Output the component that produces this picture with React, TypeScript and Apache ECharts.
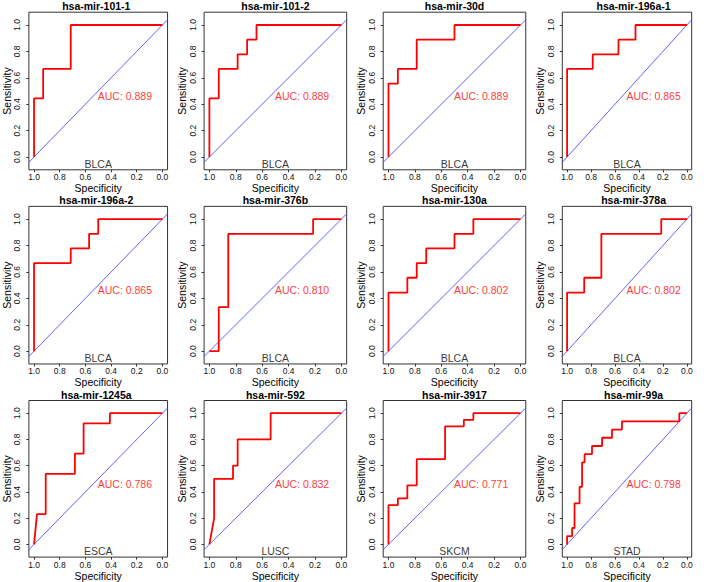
import React, { useEffect, useRef } from "react";
import * as echarts from "echarts";

const titles = [
  "hsa-mir-101-1", "hsa-mir-101-2", "hsa-mir-30d", "hsa-mir-196a-1",
  "hsa-mir-196a-2", "hsa-mir-376b", "hsa-mir-130a", "hsa-mir-378a",
  "hsa-mir-1245a", "hsa-mir-592", "hsa-mir-3917", "hsa-mir-99a",
];
const cancers = ["BLCA", "BLCA", "BLCA", "BLCA", "BLCA", "BLCA", "BLCA", "BLCA", "ESCA", "LUSC", "SKCM", "STAD"];
const aucs = ["0.889", "0.889", "0.889", "0.865", "0.865", "0.810", "0.802", "0.802", "0.786", "0.832", "0.771", "0.798"];
const tickValues = [0, 0.2, 0.4, 0.6, 0.8, 1.0];

const spec1 = [1, 1, 0.929, 0.929, 0.714, 0.714, 0];
const sens1 = [0, 0.444, 0.444, 0.667, 0.667, 1, 1];
const spec2 = [1, 1, 0.929, 0.929, 0.786, 0.786, 0.714, 0.714, 0.643, 0.643, 0];
const sens2 = [0, 0.444, 0.444, 0.667, 0.667, 0.778, 0.778, 0.889, 0.889, 1, 1];
const spec3 = [1, 1, 0.929, 0.929, 0.786, 0.786, 0.5, 0.5, 0];
const sens3 = [0, 0.556, 0.556, 0.667, 0.667, 0.889, 0.889, 1, 1];
const spec4 = [1, 1, 0.786, 0.786, 0.571, 0.571, 0.429, 0.429, 0];
const sens4 = [0, 0.667, 0.667, 0.778, 0.778, 0.889, 0.889, 1, 1];
const spec5 = [1, 1, 0.714, 0.714, 0.571, 0.571, 0.5, 0.5, 0];
const sens5 = [0, 0.667, 0.667, 0.778, 0.778, 0.889, 0.889, 1, 1];
const spec6 = [1, 0.929, 0.929, 0.857, 0.857, 0.214, 0.214, 0];
const sens6 = [0, 0, 0.333, 0.333, 0.889, 0.889, 1, 1];
const spec7 = [1, 1, 0.857, 0.857, 0.786, 0.786, 0.714, 0.714, 0.5, 0.5, 0.357, 0.357, 0];
const sens7 = [0, 0.444, 0.444, 0.556, 0.556, 0.667, 0.667, 0.778, 0.778, 0.889, 0.889, 1, 1];
const spec8 = [1, 1, 0.857, 0.857, 0.714, 0.714, 0.214, 0.214, 0];
const sens8 = [0, 0.444, 0.444, 0.556, 0.556, 0.889, 0.889, 1, 1];
const spec9 = [1, 0.977, 0.909, 0.909, 0.682, 0.682, 0.614, 0.614, 0.409, 0.409, 0];
const sens9 = [0, 0.231, 0.231, 0.538, 0.538, 0.692, 0.692, 0.923, 0.923, 1, 1];
const spec10 = [1, 0.964, 0.964, 0.821, 0.821, 0.786, 0.786, 0.536, 0.536, 0];
const sens10 = [0, 0.2, 0.5, 0.5, 0.6, 0.6, 0.8, 0.8, 1, 1];
const spec11 = [1, 1, 0.929, 0.929, 0.857, 0.857, 0.786, 0.786, 0.571, 0.571, 0.429, 0.429, 0.357, 0.357, 0];
const sens11 = [0, 0.3, 0.3, 0.35, 0.35, 0.45, 0.45, 0.65, 0.65, 0.9, 0.9, 0.95, 0.95, 1, 1];
const spec12 = [1, 1, 0.958, 0.958, 0.938, 0.938, 0.896, 0.896, 0.875, 0.875, 0.854, 0.854, 0.792, 0.792, 0.708, 0.708, 0.625, 0.625, 0.542, 0.542, 0.063, 0.063, 0];
const sens12 = [0, 0.063, 0.063, 0.125, 0.125, 0.313, 0.313, 0.438, 0.438, 0.625, 0.625, 0.688, 0.688, 0.75, 0.75, 0.813, 0.813, 0.875, 0.875, 0.938, 0.938, 1, 1];

const specs = [spec1, spec2, spec3, spec4, spec5, spec6, spec7, spec8, spec9, spec10, spec11, spec12];
const senss = [sens1, sens2, sens3, sens4, sens5, sens6, sens7, sens8, sens9, sens10, sens11, sens12];

const FONT = "'Liberation Sans', Arial, Helvetica, sans-serif";
const COL0 = 25;
const COL_STEP = 179.1;
const ROW0 = 12.2;
const ROW_STEP = 194.15;
const UNIT = 132;
const XMIN = -0.04, XMAX = 1.04;
const YMIN = -0.097, YMAX = 1.097;
const DIAG = "#5050ff";

export default function App() {
  const ref = useRef<HTMLDivElement>(null);
  useEffect(() => {
    if (!ref.current) return;
    const chart = echarts.init(ref.current, undefined, { renderer: "svg" });
    const grids: any[] = [];
    const xAxes: any[] = [];
    const yAxes: any[] = [];
    const series: any[] = [];
    const title: any[] = [];
    const W = (XMAX - XMIN) * UNIT;
    const H = (YMAX - YMIN) * UNIT;
    for (let i = 0; i < 12; i++) {
      const c = i % 4;
      const r = Math.floor(i / 4);
      const left = COL0 + c * COL_STEP;
      const top = ROW0 + r * ROW_STEP;
      grids.push({ left, top, width: W, height: H, show: true, borderColor: "#333", borderWidth: 1, backgroundColor: "transparent" });
      xAxes.push({
        type: "value", gridIndex: i, inverse: true, min: XMIN, max: XMAX, position: "bottom",
        axisLine: { show: false, onZero: false }, splitLine: { show: false },
        axisTick: { show: true, customValues: tickValues, length: 2.5, lineStyle: { color: "#333" } },
        axisLabel: { customValues: tickValues, formatter: (v: number) => v.toFixed(1), fontSize: 8.5, color: "#111", margin: 3, fontFamily: FONT },
        name: "Specificity", nameLocation: "middle", nameGap: 11,
        nameTextStyle: { fontSize: 10.5, color: "#000", fontFamily: FONT },
      });
      yAxes.push({
        type: "value", gridIndex: i, min: YMIN, max: YMAX, position: "left",
        axisLine: { show: false, onZero: false }, splitLine: { show: false },
        axisTick: { show: true, customValues: tickValues, length: 2.5, lineStyle: { color: "#333" } },
        axisLabel: { customValues: tickValues, formatter: (v: number) => v.toFixed(1), fontSize: 8.5, color: "#111", margin: 7, rotate: 90, fontFamily: FONT },
        name: "Sensitivity", nameLocation: "middle", nameGap: 14, nameRotate: 90,
        nameTextStyle: { fontSize: 10.5, color: "#000", fontFamily: FONT },
      });
      title.push({
        text: titles[i], left: left + W / 2, top: top - 11.5, textAlign: "center", padding: 0,
        textStyle: { fontSize: 10.5, fontWeight: "bold", color: "#000", fontFamily: FONT },
      });
      series.push({
        type: "line", xAxisIndex: i, yAxisIndex: i, symbol: "none", silent: true,
        color: DIAG, itemStyle: { color: DIAG },
        data: [[XMAX, -XMAX + 1], [XMIN, 1 - XMIN]],
        lineStyle: { color: DIAG, width: 0.9, opacity: 1 }, z: 1,
      });
      series.push({
        type: "line", xAxisIndex: i, yAxisIndex: i, symbol: "none", silent: true,
        color: "#ff0000", itemStyle: { color: "#ff0000" },
        data: specs[i].map((s, k) => [s, senss[i][k]]),
        lineStyle: { color: "#ff0000", width: 1.8 }, z: 2,
      });
      series.push({
        type: "scatter", xAxisIndex: i, yAxisIndex: i, symbolSize: 1, silent: true,
        itemStyle: { color: "transparent" },
        data: [[0.5, 0.5]],
        label: { show: true, formatter: "AUC: " + aucs[i], position: [0, 0], align: "left", verticalAlign: "top", color: "#ff0000", fontSize: 10.5, fontFamily: FONT },
        z: 3,
      });
      series.push({
        type: "scatter", xAxisIndex: i, yAxisIndex: i, symbolSize: 1, silent: true,
        itemStyle: { color: "transparent" },
        data: [[0.5, -0.05]],
        label: { show: true, formatter: cancers[i], position: "inside", align: "center", verticalAlign: "middle", color: "#000", fontSize: 10.5, fontFamily: FONT },
        z: 3,
      });
    }
    chart.setOption({
      animation: false,
      backgroundColor: "#fff",
      title,
      grid: grids,
      xAxis: xAxes,
      yAxis: yAxes,
      series,
    });
    return () => chart.dispose();
  }, []);
  return (
    <div
      ref={ref}
      style={{ position: "absolute", left: 0, top: 0, width: 708, height: 582, background: "#fff" }}
    />
  );
}
